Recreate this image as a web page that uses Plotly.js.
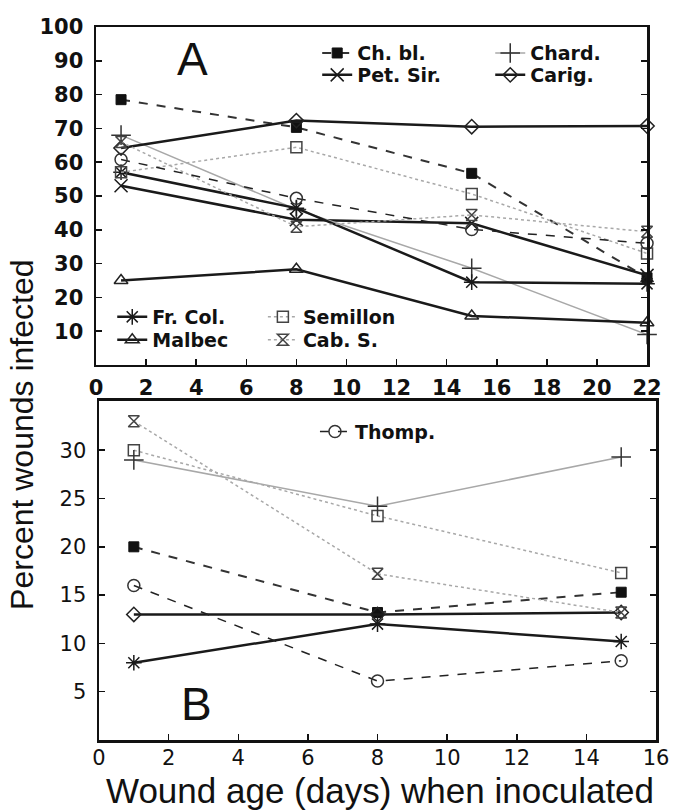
<!DOCTYPE html>
<html>
<head>
<meta charset="utf-8">
<script src="https://cdn.plot.ly/plotly-3.0.1.min.js"></script>
<style>html,body{margin:0;padding:0;background:#fff;}#chart{width:673px;height:812px;}</style>
</head>
<body>
<div id="chart"></div>
<script>
// ---- data ----
const daysA = [1, 8, 15, 22];
const daysB = [1, 8, 15];
const ticksA_x = [0, 2, 4, 6, 8, 10, 12, 14, 16, 18, 20, 22];
const ticksA_y = [10, 20, 30, 40, 50, 60, 70, 80, 90, 100];
const ticksB_x = [0, 2, 4, 6, 8, 10, 12, 14, 16];
const ticksB_y = [5, 10, 15, 20, 25, 30];

const chblA = [78.5, 70.3, 56.7, 25.8];
const petsirA = [53, 43, 41.9, 26.5];
const chardA = [68, 46, 28.6, 9];
const carigA = [64.2, 72.3, 70.5, 70.7];
const frcolA = [57, 46.4, 24.5, 24];
const malbecA = [25, 28.3, 14.5, 12.5];
const semillonA = [57, 64.4, 50.6, 33];
const cabsA = [66, 40.9, 44.4, 39.4];
const thompA = [60.8, 49.3, 40.1, 36];

const chblB = [20, 13.2, 15.3];
const carigB = [13, 13, 13.2];
const frcolB = [8, 12, 10.2];
const thompB = [16, 6.1, 8.2];
const semillonB = [30, 23.2, 17.3];
const chardB = [29, 24.2, 29.3];
const cabsB = [33, 17.2, 13.2];

// ---- styles ----
const DARK = '#1a1a1a';
const GREY = '#a8a8a8';
const st = {
  chbl:   {name:'Ch. bl.',  line:{color:'#333', width:2, dash:'dash'}, marker:{symbol:'square', size:10, color:'#111', line:{color:'#111', width:1}}},
  petsir: {name:'Pet. Sir.',line:{color:DARK, width:2.5}, marker:{symbol:'x-thin-open', size:13, color:DARK, line:{color:DARK, width:1.5}}},
  chard:  {name:'Chard.',   line:{color:GREY, width:1.5}, marker:{symbol:'cross-thin-open', size:14, color:'#333', line:{color:'#333', width:1.5}}},
  carig:  {name:'Carig.',   line:{color:DARK, width:2.5}, marker:{symbol:'diamond-open', size:11, color:'#222', line:{color:'#222', width:1.5}}},
  frcol:  {name:'Fr. Col.', line:{color:DARK, width:2.5}, marker:{symbol:'asterisk-open', size:13, color:DARK, line:{color:DARK, width:1.5}}},
  malbec: {name:'Malbec',   line:{color:DARK, width:2.5}, marker:{symbol:'triangle-up-open', size:12, color:'#222', line:{color:'#222', width:1.5}}},
  semil:  {name:'Semillon', line:{color:GREY, width:1.5, dash:'dot'}, marker:{symbol:'square-open', size:11, color:'#444', line:{color:'#444', width:1.5}}},
  cabs:   {name:'Cab. S.',  line:{color:GREY, width:1.5, dash:'dot'}, marker:{symbol:'hourglass-open', size:11, color:'#444', line:{color:'#444', width:1.5}}},
  thomp:  {name:'Thomp.',   line:{color:'#222', width:1.5, dash:'dash'}, marker:{symbol:'circle-open', size:12, color:'#333', line:{color:'#333', width:1.5}}}
};

function tr(s, x, y, panel, legend, show) {
  return {
    type:'scatter', mode:'lines+markers', x:x, y:y, name:s.name,
    line:s.line, marker:s.marker,
    xaxis: panel === 'A' ? 'x' : 'x2',
    yaxis: panel === 'A' ? 'y' : 'y2',
    legend: legend || 'legend', showlegend: !!show, cliponaxis:false
  };
}

const data = [
  tr(st.chbl, daysA, chblA, 'A', 'legend', true),
  tr(st.petsir, daysA, petsirA, 'A', 'legend2', true),
  tr(st.chard, daysA, chardA, 'A', 'legend3', true),
  tr(st.carig, daysA, carigA, 'A', 'legend4', true),
  tr(st.frcol, daysA, frcolA, 'A', 'legend5', true),
  tr(st.malbec, daysA, malbecA, 'A', 'legend6', true),
  tr(st.semil, daysA, semillonA, 'A', 'legend7', true),
  tr(st.cabs, daysA, cabsA, 'A', 'legend8', true),
  tr(st.thomp, daysA, thompA, 'A', 'legend', false),
  tr(st.chbl, daysB, chblB, 'B'),
  tr(st.carig, daysB, carigB, 'B'),
  tr(st.frcol, daysB, frcolB, 'B'),
  tr(st.semil, daysB, semillonB, 'B'),
  tr(st.chard, daysB, chardB, 'B'),
  tr(st.cabs, daysB, cabsB, 'B'),
  tr(st.thomp, daysB, thompB, 'B', 'legend9', true)
];

const boldTick = {family:'DejaVu Sans', size:21, color:'#111', weight:'bold'};
const regTick = {family:'DejaVu Sans', size:21, color:'#111'};
const axBase = {showgrid:false, zeroline:false, showline:true, linecolor:'#111', linewidth:2.5,
  ticks:'inside', ticklen:6, tickwidth:1.5, tickcolor:'#111', fixedrange:true};

const legFont = {family:'DejaVu Sans', size:19, color:'#111', weight:'bold'};
function leg(x, y) {
  return {x:x, y:y, xanchor:'left', yanchor:'top', orientation:'v', bgcolor:'rgba(0,0,0,0)',
    borderwidth:0, font:legFont, itemwidth:30, tracegroupgap:0, itemclick:false, itemdoubleclick:false};
}

const layout = {
  width:673, height:812,
  margin:{l:96, r:17, t:27, b:72},
  paper_bgcolor:'#fff', plot_bgcolor:'#fff',
  xaxis: Object.assign({}, axBase, {domain:[0, 0.984], range:[0, 22], tickvals:ticksA_x, ticktext:ticksA_x.map(String),
    tickfont:boldTick, anchor:'y', mirror:true, ticklabelstandoff:2}),
  yaxis: Object.assign({}, axBase, {domain:[0.526, 1], range:[0, 100], tickvals:ticksA_y, ticktext:ticksA_y.map(String),
    tickfont:boldTick, anchor:'x', mirror:'ticks', ticklabelstandoff:6}),
  xaxis2: Object.assign({}, axBase, {domain:[0.0054, 1], range:[0, 16], tickvals:ticksB_x, ticktext:ticksB_x.map(String),
    tickfont:regTick, anchor:'y2', mirror:true, ticklabelstandoff:-3}),
  yaxis2: Object.assign({}, axBase, {domain:[0, 0.4755], range:[0, 35.1], tickvals:ticksB_y, ticktext:ticksB_y.map(String),
    tickfont:regTick, anchor:'x2', mirror:'ticks', ticklabelstandoff:6}),
  legend: leg(0.395, 0.99),
  legend2: leg(0.395, 0.9593),
  legend3: leg(0.704, 0.99),
  legend4: leg(0.704, 0.9593),
  legend5: leg(0.029, 0.6199),
  legend6: leg(0.029, 0.5877),
  legend7: leg(0.298, 0.6199),
  legend8: leg(0.298, 0.5877),
  legend9: leg(0.391, 0.459),
  showlegend:true,
  annotations:[
    {text:'A', xref:'paper', yref:'paper', x:0.173, y:0.955, showarrow:false, xanchor:'center', yanchor:'middle',
      font:{family:'Liberation Sans, Arial', size:46, color:'#111'}},
    {text:'B', xref:'paper', yref:'paper', x:0.179, y:0.0505, showarrow:false, xanchor:'center', yanchor:'middle',
      font:{family:'Liberation Sans, Arial', size:46, color:'#111'}},
    {text:'Wound age (days) when inoculated', xref:'paper', yref:'paper', x:0.507, y:-0.071, showarrow:false,
      xanchor:'center', yanchor:'middle', font:{family:'Liberation Sans, Arial', size:35, color:'#111'}},
    {text:'Percent wounds infected', xref:'paper', yref:'paper', x:-0.132, y:0.428, showarrow:false, textangle:-90,
      xanchor:'center', yanchor:'middle', font:{family:'Liberation Sans, Arial', size:32, color:'#111'}}
  ]
};

Plotly.newPlot('chart', data, layout, {displayModeBar:false, staticPlot:true});
</script>
</body>
</html>
